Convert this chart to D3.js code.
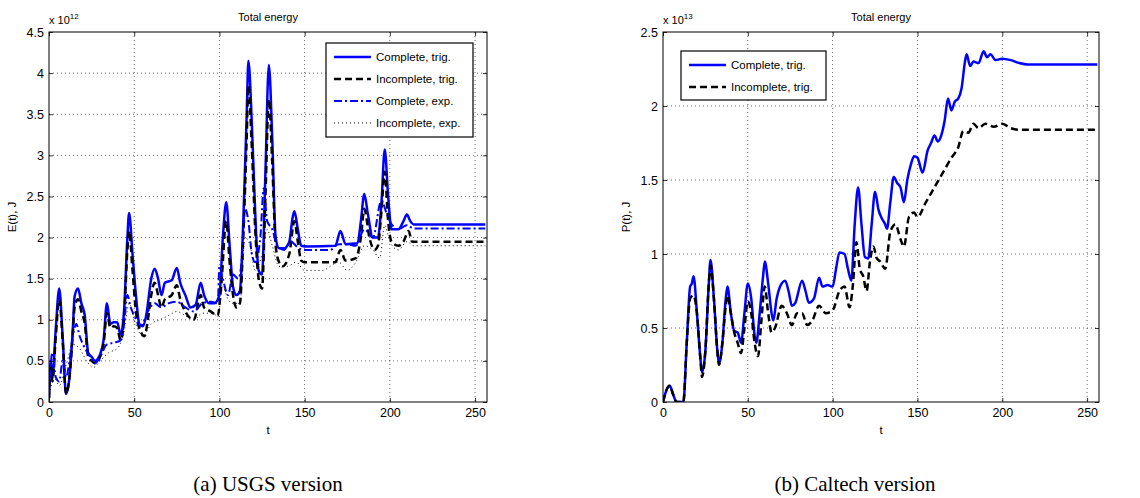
<!DOCTYPE html>
<html><head><meta charset="utf-8">
<script src="https://cdn.jsdelivr.net/npm/d3@7"></script>
<style>body{margin:0;background:#fff}svg{font-family:"Liberation Sans",Arial,sans-serif}</style>
</head><body><svg id="c" width="1140" height="498"></svg>
<script>
const xTicks=[0,50,100,150,200,250];
const yTicksA=[0,0.5,1,1.5,2,2.5,3,3.5,4,4.5];
const yTicksB=[0,0.5,1,1.5,2,2.5];
const seriesNamesA=["Complete, trig.","Incomplete, trig.","Complete, exp.","Incomplete, exp."];
const seriesNamesB=["Complete, trig.","Incomplete, trig."];
const aCompTrig=[[0,0.05],[1,0.5],[2,0.3],[4,0.9],[6,1.38],[8,0.8],[10,0.1],[12,0.3],[14,0.9],[15,1.28],[17,1.38],[19,1.2],[21,1.05],[23,0.6],[25,0.55],[27,0.5],[30,0.58],[32,0.75],[34,1.2],[36,0.95],[38,0.97],[40,0.97],[42,0.82],[44,1.1],[46,2.0],[47,2.3],[49,1.8],[51,1.3],[53,0.95],[55,0.92],[57,1.05],[60,1.5],[62,1.62],[64,1.5],[66,1.3],[68,1.45],[72,1.48],[75,1.63],[77,1.45],[80,1.3],[83,1.15],[86,1.18],[89,1.45],[91,1.3],[94,1.2],[97,1.2],[100,1.3],[102,2.0],[104,2.43],[106,1.9],[108,1.4],[110,1.3],[112,1.35],[114,2.2],[116,3.5],[117,4.15],[119,3.4],[121,2.3],[123,1.6],[125,1.55],[127,2.8],[129,4.1],[131,3.2],[133,2.0],[135,1.87],[138,1.87],[141,1.95],[143,2.25],[144,2.32],[146,2.1],[148,1.9],[152,1.89],[168,1.9],[171,2.08],[174,1.92],[181,1.93],[183,2.2],[185,2.53],[187,2.3],[190,2.0],[193,2.0],[195,2.4],[197,3.07],[199,2.5],[201,2.1],[205,2.1],[208,2.2],[210,2.28],[212,2.2],[214,2.16],[256,2.16]];
const aIncTrig=[[0,0.05],[1,0.45],[2,0.25],[4,0.8],[6,1.25],[8,0.75],[10,0.1],[12,0.3],[14,0.85],[15,1.15],[17,1.25],[19,1.1],[21,0.95],[23,0.55],[25,0.5],[27,0.47],[30,0.55],[32,0.7],[34,1.08],[36,0.9],[38,0.92],[40,0.9],[42,0.75],[44,1.0],[46,1.85],[47,2.08],[49,1.6],[51,1.1],[54,0.85],[56,0.8],[58,1.0],[60,1.3],[62,1.45],[64,1.3],[66,1.15],[68,1.25],[72,1.3],[75,1.42],[77,1.25],[80,1.1],[85,1.0],[89,1.3],[91,1.15],[95,1.1],[99,1.05],[101,1.4],[104,2.2],[106,1.7],[108,1.3],[110,1.15],[112,1.2],[114,2.0],[116,3.2],[117,3.85],[119,3.1],[121,2.1],[123,1.5],[125,1.38],[127,2.5],[129,3.68],[131,2.9],[133,1.9],[135,1.7],[137,1.65],[141,1.8],[144,2.2],[146,1.95],[148,1.72],[150,1.7],[168,1.7],[171,1.85],[174,1.72],[180,1.75],[183,2.0],[185,2.35],[188,2.0],[191,1.85],[193,1.9],[195,2.3],[197,2.8],[199,2.2],[201,1.95],[205,1.9],[208,1.95],[211,2.08],[213,1.95],[256,1.95]];
const aCompExp=[[0,0.1],[2,0.6],[4,0.3],[6,0.25],[8,0.5],[10,0.3],[12,0.5],[14,0.8],[16,0.95],[18,0.8],[20,0.7],[24,0.55],[27,0.47],[30,0.55],[34,0.7],[38,0.72],[42,0.75],[44,0.95],[46,1.3],[48,1.15],[50,1.05],[54,0.93],[58,1.1],[62,1.2],[66,1.15],[70,1.2],[75,1.22],[80,1.15],[85,1.1],[90,1.2],[95,1.22],[99,1.2],[100,1.65],[102,1.5],[105,1.3],[108,1.55],[111,1.5],[113,1.7],[115,2.35],[117,2.2],[119,1.8],[121,1.7],[124,2.0],[126,2.6],[128,2.2],[131,2.1],[134,1.9],[138,1.85],[142,1.95],[146,1.88],[150,1.85],[165,1.85],[170,1.92],[175,1.92],[180,1.9],[185,2.1],[190,2.0],[195,2.45],[198,2.3],[200,2.2],[205,2.1],[210,2.15],[214,2.11],[256,2.11]];
const aIncExp=[[0,0.05],[3,0.3],[6,0.2],[10,0.45],[14,0.7],[18,0.65],[22,0.5],[26,0.42],[30,0.5],[35,0.6],[40,0.65],[44,0.85],[47,1.2],[50,1.0],[55,0.8],[60,0.95],[65,1.0],[70,1.05],[75,1.1],[80,1.05],[85,1.0],[90,1.08],[95,1.08],[99,1.05],[102,1.4],[105,1.25],[108,1.2],[112,1.2],[115,2.0],[118,1.9],[121,1.6],[125,1.8],[128,2.1],[131,1.9],[135,1.65],[140,1.65],[145,1.7],[150,1.6],[160,1.6],[170,1.7],[175,1.6],[180,1.7],[185,1.9],[190,1.85],[194,1.75],[197,2.15],[200,1.95],[205,1.85],[210,1.95],[214,1.9],[256,1.9]];
const bCompTrig=[[0,0],[2,0.08],[4,0.11],[6,0.05],[8,0],[12,0],[14,0.4],[16,0.78],[17,0.8],[18,0.85],[20,0.6],[22,0.3],[23,0.2],[25,0.35],[27,0.8],[28,0.96],[30,0.7],[32,0.35],[33,0.26],[35,0.4],[37,0.7],[38,0.78],[40,0.6],[42,0.48],[44,0.47],[46,0.4],[48,0.6],[50,0.8],[52,0.7],[54,0.45],[55,0.4],[57,0.6],[59,0.85],[60,0.95],[62,0.8],[64,0.6],[65,0.55],[67,0.7],[69,0.78],[72,0.82],[74,0.75],[76,0.65],[78,0.67],[82,0.82],[84,0.75],[86,0.67],[89,0.7],[92,0.84],[94,0.78],[97,0.79],[100,0.78],[102,0.9],[104,1.01],[107,1.0],[109,0.9],[111,0.82],[113,1.2],[115,1.45],[117,1.2],[119,0.98],[121,0.97],[123,1.2],[125,1.42],[127,1.3],[129,1.24],[131,1.2],[132,1.17],[134,1.35],[136,1.52],[138,1.48],[140,1.45],[142,1.35],[144,1.5],[146,1.6],[148,1.66],[150,1.65],[153,1.55],[156,1.7],[158,1.75],[160,1.8],[162,1.76],[164,1.8],[166,1.9],[168,2.05],[170,1.97],[172,2.03],[174,2.05],[176,2.12],[178,2.3],[179,2.35],[181,2.27],[183,2.3],[186,2.29],[189,2.37],[191,2.33],[193,2.35],[196,2.31],[200,2.32],[205,2.31],[210,2.29],[215,2.28],[256,2.28]];
const bIncTrig=[[0,0],[2,0.08],[4,0.11],[6,0.05],[8,0],[12,0],[14,0.4],[16,0.7],[18,0.72],[20,0.6],[22,0.3],[23,0.17],[25,0.35],[27,0.8],[28,0.92],[30,0.7],[32,0.35],[33,0.25],[35,0.4],[37,0.65],[38,0.72],[40,0.6],[42,0.47],[44,0.4],[46,0.33],[48,0.5],[50,0.68],[52,0.6],[54,0.4],[56,0.31],[58,0.55],[60,0.78],[62,0.6],[64,0.47],[66,0.5],[70,0.65],[73,0.6],[76,0.52],[79,0.6],[82,0.6],[85,0.52],[88,0.55],[92,0.65],[96,0.6],[100,0.62],[104,0.75],[107,0.78],[110,0.64],[112,0.8],[114,1.08],[116,0.9],[118,0.85],[120,0.75],[122,0.95],[124,1.05],[126,0.97],[128,0.95],[131,0.9],[134,1.15],[137,1.2],[140,1.1],[142,1.05],[145,1.25],[148,1.28],[150,1.25],[155,1.35],[160,1.45],[165,1.55],[170,1.65],[174,1.72],[177,1.83],[180,1.82],[183,1.88],[186,1.85],[190,1.88],[195,1.86],[200,1.88],[205,1.85],[210,1.84],[256,1.84]];

const styles=[{c:"#0000ff",w:2.5,d:null},{c:"#000",w:2.5,d:"7,4"},{c:"#0000ff",w:2,d:"8,3,2,3"},{c:"#000",w:1,d:"1,3"}];
const svg=d3.select("#c");
function panel(o){
  const g=svg.append("g");
  const x=d3.scaleLinear().domain([0,257]).range([o.x0,o.x1]);
  const y=d3.scaleLinear().domain([0,o.ymax]).range([402,32]);
  g.append("clipPath").attr("id","cp"+o.id).append("rect").attr("x",o.x0).attr("y",32).attr("width",o.x1-o.x0).attr("height",370);
  xTicks.slice(1).forEach(t=>g.append("line").attr("x1",x(t)).attr("x2",x(t)).attr("y1",32).attr("y2",402).attr("stroke","#000").attr("stroke-width",0.6).attr("stroke-dasharray","1,3"));
  o.yt.slice(1,-1).forEach(t=>g.append("line").attr("x1",o.x0).attr("x2",o.x1).attr("y1",y(t)).attr("y2",y(t)).attr("stroke","#000").attr("stroke-width",0.6).attr("stroke-dasharray","1,3"));
  const line=d3.line().x(d=>x(d[0])).y(d=>y(d[1])).curve(d3.curveMonotoneX);
  o.series.forEach((s,i)=>{const st=styles[i];
    g.append("path").attr("d",line(s)).attr("fill","none").attr("stroke",st.c).attr("stroke-width",st.w).attr("stroke-dasharray",st.d).attr("clip-path","url(#cp"+o.id+")");});
  g.append("rect").attr("x",o.x0).attr("y",32).attr("width",o.x1-o.x0).attr("height",370).attr("fill","none").attr("stroke","#000").attr("stroke-width",1);
  const ax=g.append("g").attr("transform","translate(0,402)").call(d3.axisBottom(x).tickValues(xTicks).tickSize(-4).tickPadding(6).tickFormat(d3.format("d")));
  const axT=g.append("g").attr("transform","translate(0,32)").call(d3.axisTop(x).tickValues(xTicks).tickSize(-4).tickFormat(""));
  const ay=g.append("g").attr("transform",`translate(${o.x0},0)`).call(d3.axisLeft(y).tickValues(o.yt).tickSize(-4).tickPadding(5).tickFormat(d=>d));
  const ayR=g.append("g").attr("transform",`translate(${o.x1},0)`).call(d3.axisRight(y).tickValues(o.yt).tickSize(-4).tickFormat(""));
  [ax,axT,ay,ayR].forEach(a=>{a.select(".domain").remove();a.selectAll("text").attr("font-size",12.5).attr("font-family","Liberation Sans");a.selectAll("line").attr("stroke-width",0.8);});
  g.append("text").attr("x",(o.x0+o.x1)/2).attr("y",21).attr("text-anchor","middle").attr("font-size",11).text("Total energy");
  const ex=g.append("text").attr("x",o.x0).attr("y",24).attr("font-size",11).text("x 10");
  ex.append("tspan").attr("font-size",8).attr("dy",-5).text(o.exp);
  g.append("text").attr("x",(o.x0+o.x1)/2).attr("y",434).attr("text-anchor","middle").attr("font-size",11.5).text("t");
  g.append("text").attr("transform",`translate(${o.x0-33},217) rotate(-90)`).attr("text-anchor","middle").attr("font-size",11.5).text(o.ylab);
  const L=o.leg;
  g.append("rect").attr("x",L.x).attr("y",L.y).attr("width",L.w).attr("height",L.h).attr("fill","#fff").attr("stroke","#000").attr("stroke-width",1.2);
  o.names.forEach((n,i)=>{const st=styles[i];const yy=L.y+14+i*22;
    g.append("line").attr("x1",L.x+8).attr("x2",L.x+45).attr("y1",yy).attr("y2",yy).attr("stroke",st.c).attr("stroke-width",st.w).attr("stroke-dasharray",st.d);
    g.append("text").attr("x",L.x+50).attr("y",yy+4).attr("font-size",11.5).text(n);});
  g.append("text").attr("x",o.cap[0]).attr("y",491).attr("text-anchor","middle").attr("font-family","Liberation Serif, DejaVu Serif, serif").attr("font-size",21).text(o.cap[1]);
}
panel({id:"a",x0:49,x1:487,ymax:4.5,yt:yTicksA,series:[aCompTrig,aIncTrig,aCompExp,aIncExp],names:seriesNamesA,exp:"12",ylab:"E(t), J",leg:{x:326,y:43,w:147,h:94},cap:[268,"(a) USGS version"]});
panel({id:"b",x0:663,x1:1099,ymax:2.5,yt:yTicksB,series:[bCompTrig,bIncTrig],names:seriesNamesB,exp:"13",ylab:"P(t), J",leg:{x:681,y:51,w:145,h:49},cap:[855,"(b) Caltech version"]});
</script></body></html>
